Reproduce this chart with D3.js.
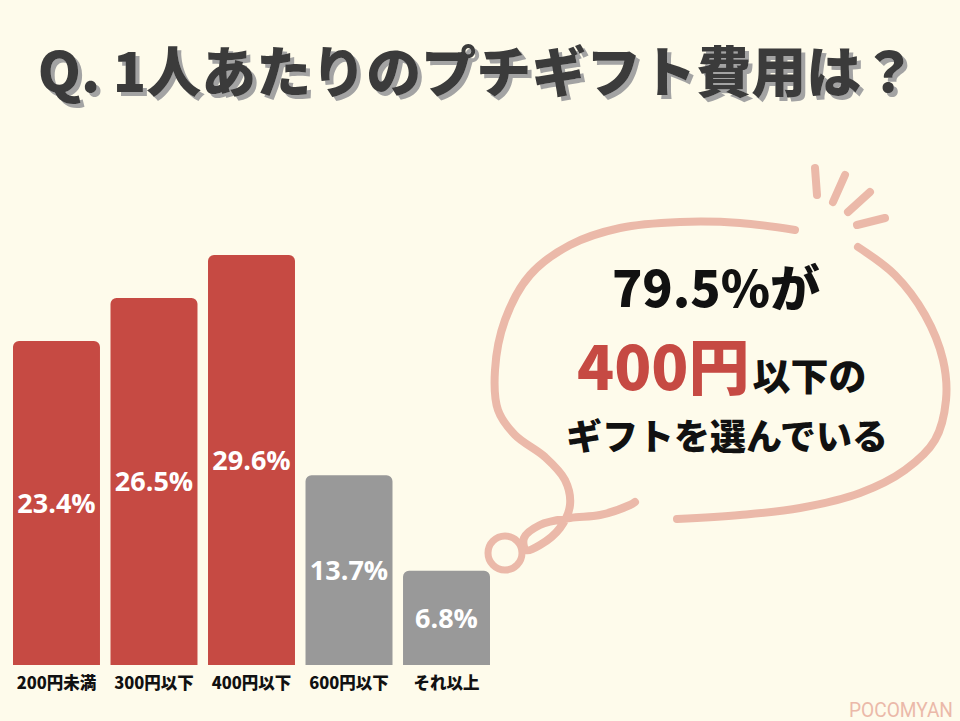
<!DOCTYPE html>
<html><head><meta charset="utf-8">
<script src="https://cdn.jsdelivr.net/npm/d3@7"></script>
<style>body{margin:0;background:#fefbeb;}svg{display:block;}</style>
</head><body>
<svg id="c" width="960" height="721"></svg>
<script>
const categories = ["200円未満","300円以下","400円以下","600円以下","それ以上"];
const values = [23.4, 26.5, 29.6, 13.7, 6.8];
const highlighted = [true, true, true, false, false];
const valueLabels = ["23.4%","26.5%","29.6%","13.7%","6.8%"];
const title = "Q. 1人あたりのプチギフト費用は？";

const svg = d3.select("#c");
const W = 960, H = 721;
svg.append("rect").attr("width",W).attr("height",H).attr("fill","#fefbeb");

const jp = "'Noto Sans CJK JP','Noto Sans',sans-serif";

const defs = svg.append("defs");
const f = defs.append("filter").attr("id","tshadow").attr("x","-5%").attr("y","-20%").attr("width","110%").attr("height","140%");
f.append("feDropShadow").attr("dx",4).attr("dy",4).attr("stdDeviation",0).attr("flood-color","#a3a3a3").attr("flood-opacity",1);

// Title with shadow
svg.append("text").attr("x",477).attr("y",92)
  .attr("font-family",jp).attr("font-weight",900).attr("font-size",55).attr("text-anchor","middle")
  .attr("fill","#3b3b3b").attr("filter","url(#tshadow)").text(title);

// Scales
const x = d3.scaleBand().domain(categories).range([13,490]).paddingInner(0.108).paddingOuter(0);
const y = d3.scaleLinear().domain([0,30]).range([665, 665-13.85*30]);

const data = categories.map((c,i)=>({c, v:values[i], hl:highlighted[i], lab:valueLabels[i]}));

function barPath(x0,y0,w,h,r){
  const p = d3.path();
  p.moveTo(x0, y0+h);
  p.lineTo(x0, y0+r);
  p.arcTo(x0, y0, x0+r, y0, r);
  p.lineTo(x0+w-r, y0);
  p.arcTo(x0+w, y0, x0+w, y0+r, r);
  p.lineTo(x0+w, y0+h);
  p.closePath();
  return p.toString();
}

svg.append("g").selectAll("path").data(data).join("path")
  .attr("d", d=>barPath(x(d.c), y(d.v), x.bandwidth(), y(0)-y(d.v), 6))
  .attr("fill", d=>d.hl ? "#c64a43" : "#999999");

svg.append("g").attr("font-family","'Open Sans','Noto Sans',sans-serif").attr("font-weight",700)
  .attr("font-size",27).attr("fill","#ffffff").attr("text-anchor","middle")
  .selectAll("text").data(data).join("text")
  .attr("x", d=>x(d.c)+x.bandwidth()/2)
  .attr("y", d=>(y(d.v)+y(0))/2+10)
  .text(d=>d.lab);

// x axis labels
const xa = svg.append("g").attr("transform",`translate(0,${y(0)})`)
  .call(d3.axisBottom(x).tickSize(0).tickPadding(12));
xa.select(".domain").remove();
xa.selectAll("text").attr("font-family",jp).attr("font-weight",900).attr("font-size",16.5).attr("fill","#111");

// Bubble decoration
const bc = "#ebb9a9";
const bubble = svg.append("g").attr("fill","none").attr("stroke",bc).attr("stroke-width",8).attr("stroke-linecap","round");
const line = d3.line().curve(d3.curveCatmullRom.alpha(0.5));
const outline = [[795,230],[740,223],[680,222],[620,228],[570,245],[530,275],[505,320],[495,370],[498,410],[515,435],[545,457],[565,480],[570,505],[560,528],[540,545],[526,550],[524,538],[540,525],[570,518],[600,515],[630,505],[635,502]];
bubble.append("path").attr("d", line(outline));
const outline2 = [[858,247],[895,275],[925,315],[943,360],[946,400],[935,440],[905,470],[860,493],[800,508],[740,515],[677,519]];
bubble.append("path").attr("d", line(outline2));
bubble.append("circle").attr("cx",505).attr("cy",553).attr("r",17).attr("stroke-width",7);
const sparks = [[[815,168],[817,195]],[[845,175],[833,202]],[[870,192],[848,212]],[[885,218],[857,225]]];
sparks.forEach(s=>bubble.append("path").attr("d", d3.line()(s)));

// Bubble text
const bt = svg.append("g").attr("font-family",jp).attr("font-weight",900);
bt.append("text").attr("x",716).attr("y",307).attr("text-anchor","middle").attr("font-size",50).attr("fill","#111").text("79.5%が");
const l2 = bt.append("text").attr("x",577).attr("y",390).attr("fill","#111");
l2.append("tspan").attr("font-size",61).attr("fill","#c64a43").text("400円");
l2.append("tspan").attr("font-size",38).attr("dx",3).text("以下の");
bt.append("text").attr("x",727).attr("y",450).attr("text-anchor","middle").attr("font-size",36).attr("fill","#111").text("ギフトを選んでいる");

// watermark
svg.append("text").attr("x",953).attr("y",717).attr("text-anchor","end")
  .attr("font-family","Roboto,'Noto Sans',sans-serif").attr("font-size",20).attr("fill","#ebb9a9")
  .attr("textLength",104).attr("lengthAdjust","spacingAndGlyphs").text("POCOMYAN");
</script>
</body></html>
